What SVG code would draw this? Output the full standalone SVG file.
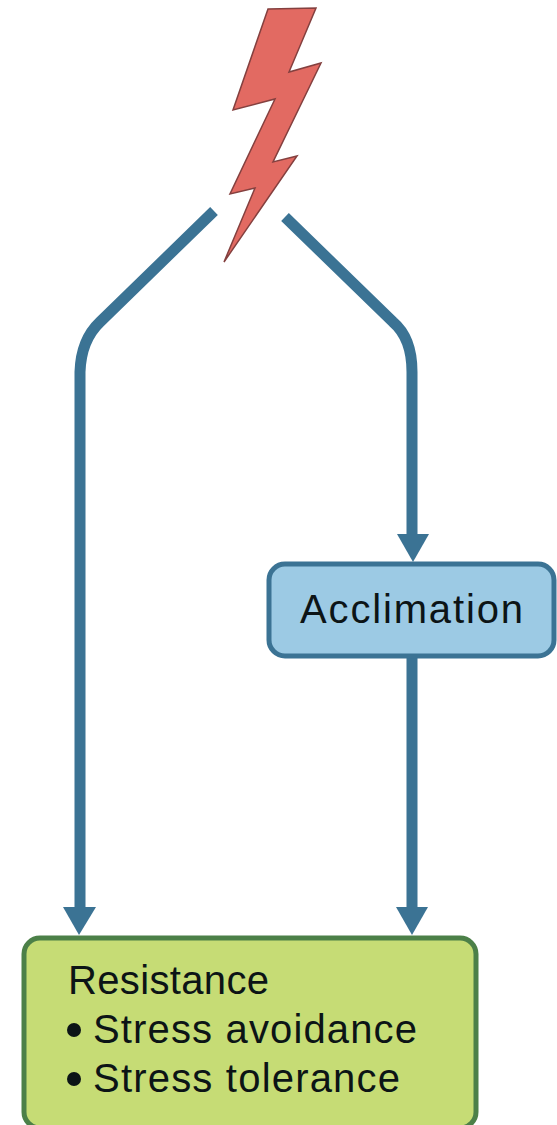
<svg xmlns="http://www.w3.org/2000/svg" width="557" height="1125" viewBox="0 0 557 1125">
<style>
.c{fill:none;stroke:#3b7394;stroke-width:11}
.h{fill:#3b7394}
text{font-family:"Liberation Sans",Arial,sans-serif;font-size:40px;fill:#0c1416}
</style>
<rect width="557" height="1125" fill="#fff"/>
<g id="connectors">
<path class="c" d="M214 211L100 322Q81 340 80 372V908"/>
<path class="c" d="M285 217L393 322Q412 338 412 372V536"/>
<path class="c" d="M412 654V908"/>
<polygon class="h" points="63,907 96,907 79,935"/>
<polygon class="h" points="396,907 428,907 412,935"/>
<polygon class="h" points="397,534 429,534 413,562"/>
</g>
<g id="lightning">
<polygon points="268,9 316,8 289,72 321,63 273,162 297,156 224,262 255,188 230,194 275,99 233,110" fill="#e26a62" stroke="#84403f" stroke-width="1.5" stroke-linejoin="miter"/>
</g>
<g id="acclimation">
<rect x="269" y="564" width="285" height="92" rx="16" fill="#9ccae4" stroke="#3b7394" stroke-width="5"/>
<text x="300" y="623" textLength="223" lengthAdjust="spacing">Acclimation</text>
</g>
<g id="resistance">
<rect x="24" y="938" width="452" height="190" rx="16" fill="#c6dc75" stroke="#4c8048" stroke-width="5"/>
<text x="68" y="994" textLength="201">Resistance</text>
<circle cx="74" cy="1030" r="7" fill="#0c1416"/>
<text x="93" y="1043" textLength="324">Stress avoidance</text>
<circle cx="74" cy="1079" r="7" fill="#0c1416"/>
<text x="93" y="1092" textLength="307">Stress tolerance</text>
</g>
</svg>
